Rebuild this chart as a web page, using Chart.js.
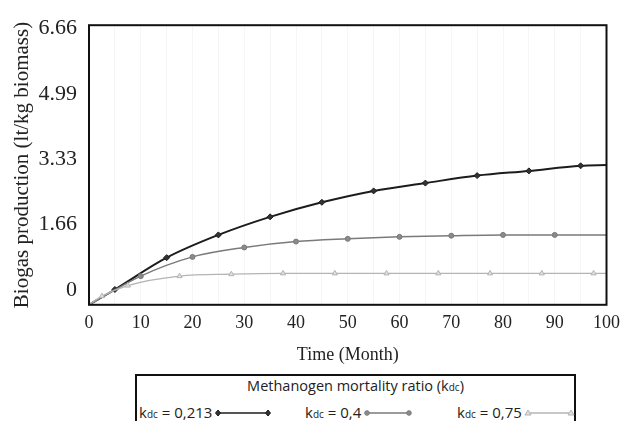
<!DOCTYPE html>
<html>
<head>
<meta charset="utf-8">
<script src="https://cdn.jsdelivr.net/npm/chart.js@4.4.1/dist/chart.umd.min.js"></script>
<style>
  html, body { margin: 0; padding: 0; background: #fff; }
  .wrap { position: relative; width: 628px; height: 421px; overflow: hidden; }
  .chart-box { position: absolute; left: 0; top: 0; width: 628px; height: 372px; }
  .legend-box {
    position: absolute; left: 135px; top: 374px; width: 437px; height: 60px;
    border: 2px solid #111; font-family: "Open Sans", sans-serif; color: #222;
  }
  .legend-title { position: absolute; left: 0; right: 0; top: 0; text-align: center; font-size: 14.5px; line-height: 20px; }
  .legend-item { position: absolute; top: 26px; font-size: 15px; line-height: 20px; white-space: nowrap; display: flex; align-items: baseline; }
  .legend-box .sub { font-size: 10px; vertical-align: baseline; }
  .legend-item svg { margin-left: 2px; align-self: center; }
</style>
</head>
<body>
<div class="wrap">
  <div class="chart-box"><canvas id="biogasChart"></canvas></div>
  <div class="legend-box" id="legendBox">
    <div class="legend-title">Methanogen mortality ratio (k<span class="sub">dc</span>)</div>
  </div>
</div>
<script>
// values (x in months, y in the chart's own units)
const timeA = [0, 5, 15, 25, 35, 45, 55, 65, 75, 85, 95, 100];
const prodA = [0, 0.39, 1.20, 1.78, 2.24, 2.61, 2.90, 3.10, 3.29, 3.41, 3.54, 3.56];

const timeB = [0, 10, 20, 30, 40, 50, 60, 70, 80, 90, 100];
const prodB = [0, 0.73, 1.22, 1.46, 1.61, 1.68, 1.73, 1.76, 1.78, 1.78, 1.78];

const timeC = [0, 2.5, 7.5, 17.5, 27.5, 37.5, 47.5, 57.5, 67.5, 77.5, 87.5, 97.5, 100];
const prodC = [0, 0.22, 0.49, 0.73, 0.78, 0.80, 0.80, 0.80, 0.80, 0.80, 0.80, 0.80, 0.80];

const kdcValues = ['0,213', '0,4', '0,75'];
const yTickValues = [0, 1.66, 3.33, 4.99, 6.66];
const yTickLabels = ['0', '1.66', '3.33', '4.99', '6.66'];

function toPoints(xs, ys) {
  return xs.map((x, i) => ({ x: x, y: ys[i] }));
}

// markers on every point except the two ends of a curve
function markerRadius(r) {
  return ctx => (ctx.dataIndex === 0 || ctx.dataIndex === ctx.dataset.data.length - 1) ? 0 : r;
}

const frame = {
  id: 'frame',
  afterDraw(chart) {
    const { ctx, chartArea: a } = chart;
    ctx.save();
    ctx.strokeStyle = '#111';
    ctx.lineWidth = 2;
    ctx.strokeRect(a.left, a.top, a.right - a.left, a.bottom - a.top);
    ctx.restore();
  }
};

const seriesStyle = [
  { color: '#1c1c1c', width: 2, point: 'rectRot', r: 3, fill: '#333' },
  { color: '#7a7a7a', width: 1.5, point: 'circle', r: 2.5, fill: '#8a8a8a' },
  { color: '#b4b4b4', width: 1.3, point: 'triangle', r: 3, fill: '#e0e0e0' }
];

window.addEventListener('DOMContentLoaded', () => {
  const ctx = document.getElementById('biogasChart').getContext('2d');
  const series = [toPoints(timeA, prodA), toPoints(timeB, prodB), toPoints(timeC, prodC)];

  new Chart(ctx, {
    type: 'line',
    data: {
      datasets: series.map((pts, i) => ({
        label: 'kdc = ' + kdcValues[i],
        data: pts,
        borderColor: seriesStyle[i].color,
        borderWidth: seriesStyle[i].width,
        pointStyle: seriesStyle[i].point,
        pointRadius: markerRadius(seriesStyle[i].r),
        pointBackgroundColor: seriesStyle[i].fill,
        pointBorderColor: seriesStyle[i].color,
        pointBorderWidth: 1,
        cubicInterpolationMode: 'monotone',
        fill: false
      })).reverse()
    },
    options: {
      responsive: true,
      maintainAspectRatio: false,
      animation: false,
      layout: { padding: { top: 21, right: 16, left: 0, bottom: 0 } },
      plugins: { legend: { display: false }, tooltip: { enabled: false } },
      scales: {
        x: {
          type: 'linear',
          min: 0, max: 100,
          border: { display: false },
          grid: { color: 'rgba(0,0,0,0.035)', drawTicks: false },
          ticks: {
            stepSize: 5, autoSkip: false, maxRotation: 0, padding: 8,
            color: '#222',
            font: { family: '"Liberation Serif", serif', size: 18 },
            callback: v => (v % 10 === 0 ? String(v) : '')
          },
          title: {
            display: true, text: 'Time (Month)', color: '#222',
            font: { family: '"Liberation Serif", serif', size: 18 },
            padding: { top: 2, bottom: 6 }
          }
        },
        y: {
          min: 0, max: 7.12,
          border: { display: false },
          grid: { display: false, drawTicks: false },
          afterBuildTicks: s => { s.ticks = yTickValues.map(v => ({ value: v })); },
          afterFit: s => { s.width = 89; },
          ticks: {
            padding: 12, labelOffset: -15, color: '#222',
            font: { family: '"Liberation Serif", serif', size: 22 },
            callback: (v, i) => yTickLabels[i]
          },
          title: {
            display: true, text: 'Biogas production (lt/kg biomass)', color: '#222',
            font: { family: '"Liberation Serif", serif', size: 21 },
            padding: { top: 10, bottom: 0 }
          }
        }
      }
    },
    plugins: [frame]
  });

  // legend built from the series, with the subscript kept as text
  const box = document.getElementById('legendBox');
  const itemLeft = [2, 168, 320];
  const lineLen = [58, 50, 51];
  kdcValues.forEach((k, i) => {
    const st = seriesStyle[i];
    const item = document.createElement('div');
    item.className = 'legend-item';
    item.style.left = itemLeft[i] + 'px';
    item.innerHTML = '<span>k<span class="sub">dc</span>&nbsp;= ' + k + '</span>';
    const w = lineLen[i];
    let mark;
    if (st.point === 'rectRot') {
      mark = x => `<path d="M${x} 5 L${x + 2.5} 8 L${x} 11 L${x - 2.5} 8 Z" fill="${st.fill}" stroke="${st.color}" stroke-width="1"/>`;
    } else if (st.point === 'circle') {
      mark = x => `<circle cx="${x}" cy="8" r="2.3" fill="${st.fill}" stroke="${st.color}" stroke-width="1"/>`;
    } else {
      mark = x => `<path d="M${x} 5 L${x + 3} 10 L${x - 3} 10 Z" fill="${st.fill}" stroke="${st.color}" stroke-width="1"/>`;
    }
    item.innerHTML += `<svg width="${w}" height="16"><line x1="3" y1="8" x2="${w - 3}" y2="8" stroke="${st.color}" stroke-width="${Math.min(st.width, 1.5)}"/>${mark(4)}${mark(w - 4)}</svg>`;
    box.appendChild(item);
  });
});
</script>
</body>
</html>
